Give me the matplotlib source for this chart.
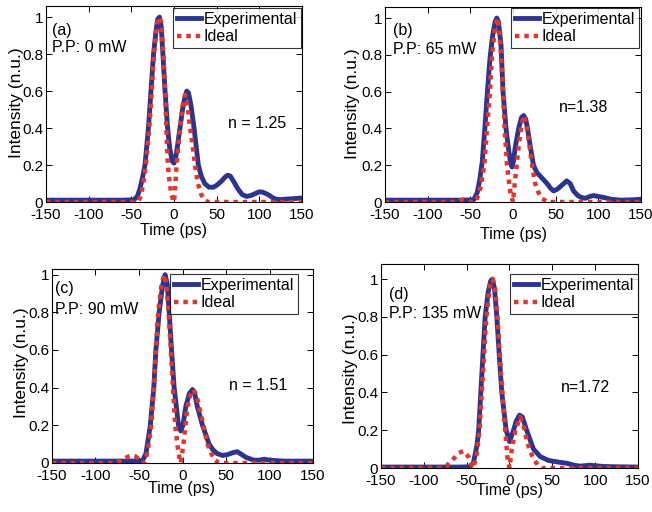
import matplotlib
matplotlib.use("Agg")
import matplotlib.pyplot as plt
from matplotlib.ticker import FuncFormatter
from matplotlib import font_manager

names = {f.name for f in font_manager.fontManager.ttflist}
NARROW = ['Liberation Sans Narrow', 'Liberation Sans', 'DejaVu Sans'] if 'Liberation Sans Narrow' in names else ['Liberation Sans', 'DejaVu Sans']
NORMAL = ['Liberation Sans', 'DejaVu Sans']

# ---------------- data ----------------
# (a) P.P: 0 mW
a_exp_t = [-150, -100, -60, -47, -43, -40, -37, -34, -30, -27, -24, -21, -19, -17, -15, -13, -10.5, -7.5, -5, -2, 0, 2, 4, 7, 10, 13, 15, 17, 20, 23.5, 26, 28.5, 32, 36, 41, 46, 50, 55, 60, 63, 66, 70, 75, 80, 85, 90, 95, 100, 104, 108, 112, 116, 120, 125, 130, 140, 150]
a_exp_y = [0.01, 0.01, 0.01, 0.012, 0.03, 0.07, 0.13, 0.2, 0.4, 0.6, 0.8, 0.93, 0.99, 1.0, 0.95, 0.8, 0.6, 0.4, 0.29, 0.22, 0.21, 0.24, 0.3, 0.4, 0.5, 0.57, 0.6, 0.59, 0.52, 0.4, 0.3, 0.2, 0.14, 0.1, 0.08, 0.08, 0.09, 0.11, 0.135, 0.145, 0.14, 0.11, 0.07, 0.04, 0.03, 0.035, 0.045, 0.055, 0.053, 0.045, 0.035, 0.022, 0.015, 0.013, 0.015, 0.018, 0.022]
a_ide_t = [-150, -100, -60, -44, -42, -39, -36, -33, -29, -26, -23.5, -21, -19, -17, -15, -12.5, -10.5, -9, -7.2, -5, -3, -1, 0, 1, 3, 5, 7, 10, 13, 16, 18.8, 22, 24.6, 28, 32, 36, 40, 60, 100, 150]
a_ide_y = [0, 0, 0, 0, 0.005, 0.03, 0.1, 0.2, 0.4, 0.6, 0.8, 0.92, 0.98, 1.0, 0.97, 0.8, 0.6, 0.4, 0.2, 0.1, 0.04, 0.01, 0, 0.05, 0.2, 0.3, 0.4, 0.52, 0.58, 0.52, 0.4, 0.3, 0.2, 0.1, 0.04, 0.01, 0, 0, 0, 0]

# (b) P.P: 65 mW
b_exp_t = [-150, -100, -60, -46, -42, -39, -36, -33, -30, -27, -24, -21, -19, -17, -14, -11.7, -8.2, -5, -3, -1.2, 0.5, 2.7, 6.6, 10, 12.5, 15, 17, 20, 24, 28, 32, 36, 40, 44, 47.6, 52, 57, 63, 67, 71, 76, 80, 85, 90, 94.5, 100, 106, 115, 126, 140, 151]
b_exp_y = [0.01, 0.01, 0.01, 0.012, 0.05, 0.12, 0.22, 0.4, 0.6, 0.78, 0.9, 0.98, 1.0, 0.98, 0.85, 0.6, 0.4, 0.28, 0.22, 0.19, 0.22, 0.3, 0.4, 0.46, 0.47, 0.45, 0.4, 0.31, 0.2, 0.16, 0.14, 0.12, 0.1, 0.075, 0.06, 0.07, 0.09, 0.115, 0.1, 0.06, 0.035, 0.025, 0.02, 0.03, 0.035, 0.03, 0.025, 0.015, 0.01, 0.012, 0.015]
b_ide_t = [-150, -100, -70, -64, -60, -55, -50, -45, -42, -38, -33.6, -30.5, -27, -24.6, -21, -18, -16, -14, -11.7, -9.8, -7, -3, 0, 2, 6.6, 10, 13, 16, 19.5, 23, 26, 30, 34, 40, 60, 100, 150]
b_ide_y = [0, 0, 0, 0.005, 0.013, 0.008, 0, 0, 0.02, 0.08, 0.2, 0.4, 0.6, 0.8, 0.95, 1.0, 0.92, 0.8, 0.6, 0.4, 0.2, 0.05, 0, 0.1, 0.3, 0.42, 0.47, 0.41, 0.3, 0.18, 0.1, 0.05, 0.02, 0, 0, 0, 0]

# (c) P.P: 90 mW
c_exp_t = [-150, -100, -60, -46, -42, -37, -33, -30.6, -26.8, -23, -20, -17.5, -15.3, -12.6, -9.6, -4.6, -2, 0.5, 3.8, 8, 11.5, 14, 17, 23, 30.6, 35, 40, 46, 52, 58, 63, 68, 73, 82, 88, 94, 100, 117, 135, 150]
c_exp_y = [0.01, 0.01, 0.01, 0.012, 0.05, 0.2, 0.4, 0.6, 0.8, 0.94, 1.0, 0.95, 0.8, 0.6, 0.4, 0.2, 0.17, 0.2, 0.3, 0.37, 0.39, 0.37, 0.3, 0.2, 0.1, 0.07, 0.05, 0.04, 0.045, 0.055, 0.06, 0.045, 0.03, 0.015, 0.015, 0.02, 0.015, 0.01, 0.01, 0.01]
c_ide_t = [-150, -100, -78, -72, -66, -62, -58, -54, -50, -46, -44, -40, -36, -33, -30.6, -28, -24, -21, -18.5, -16, -13.4, -11, -8.4, -4.6, -2, 1.1, 5.7, 9, 12.6, 16, 19, 24, 28.7, 36, 42, 60, 100, 150]
c_ide_y = [0, 0, 0, 0.01, 0.025, 0.035, 0.039, 0.035, 0.02, 0.005, 0, 0.06, 0.2, 0.4, 0.6, 0.8, 0.95, 1.0, 0.95, 0.8, 0.6, 0.4, 0.2, 0.05, 0, 0.1, 0.3, 0.36, 0.39, 0.36, 0.3, 0.2, 0.1, 0.02, 0, 0, 0, 0]

# (d) P.P: 135 mW
d_exp_t = [-150, -100, -60, -46, -42, -38, -36, -33.5, -31, -28.4, -25, -22, -20, -17.5, -14.8, -12, -9, -3.9, 0, 4.7, 8, 11.7, 15, 20, 28, 36, 45.5, 52, 59, 67, 75, 82.5, 88, 94, 100, 110, 130, 150]
d_exp_y = [0.005, 0.005, 0.005, 0.006, 0.03, 0.12, 0.2, 0.4, 0.6, 0.8, 0.93, 0.99, 1.0, 0.95, 0.8, 0.6, 0.4, 0.2, 0.14, 0.2, 0.25, 0.28, 0.27, 0.2, 0.1, 0.06, 0.04, 0.035, 0.03, 0.025, 0.015, 0.01, 0.012, 0.015, 0.012, 0.008, 0.006, 0.005]
d_ide_t = [-150, -100, -79, -74, -69, -64, -59, -53.7, -48, -45, -42, -38, -35, -31, -27, -23, -19.5, -17, -14, -10, -5, -2.3, 0, 2.7, 7, 12.5, 16, 20, 24, 28, 33, 38, 60, 100, 150]
d_ide_y = [0, 0, 0, 0.01, 0.03, 0.055, 0.08, 0.09, 0.06, 0.025, 0, 0.08, 0.2, 0.5, 0.8, 0.96, 1.0, 0.96, 0.8, 0.5, 0.2, 0.05, 0, 0.1, 0.2, 0.27, 0.23, 0.15, 0.09, 0.05, 0.015, 0, 0, 0, 0]

panel_tags = ['(a)', '(b)', '(c)', '(d)']
power_labels = ['P.P: 0 mW', 'P.P: 65 mW', 'P.P: 90 mW', 'P.P: 135 mW']
n_labels = ['n = 1.25', 'n=1.38', 'n = 1.51', 'n=1.72']
legend_labels = ['Experimental', 'Ideal']
x_ticks = [-150, -100, -50, 0, 50, 100, 150]
y_ticks = [0, 0.2, 0.4, 0.6, 0.8, 1.0]

series = [
    (a_exp_t, a_exp_y, a_ide_t, a_ide_y),
    (b_exp_t, b_exp_y, b_ide_t, b_ide_y),
    (c_exp_t, c_exp_y, c_ide_t, c_ide_y),
    (d_exp_t, d_exp_y, d_ide_t, d_ide_y),
]

# ---------------- layout (pixels) ----------------
W, H = 652, 512
boxes = [(46, 302, 6, 202, 1.06), (385, 641, 7, 202, 1.06),
         (52, 313, 269, 463, 1.03), (381, 638, 264, 468, 1.08)]
legend_anchor = [(301, 8), (639, 8), (298, 274), (638, 274)]
tag_pos = [(52, 30), (393, 30), (55, 289), (389, 294)]
pp_pos = [(52, 48), (393, 50), (55, 309), (389, 314)]
n_pos = [(228, 123), (559, 108), (229, 386), (561, 388)]
xlab_pos = [(173, 231), (513, 234), (182, 488), (509, 491)]
ylab_pos = [(17, 103), (353, 104), (22, 363), (351, 369)]

BLUE = '#2b3590'
RED = '#e5342b'
FS = 11

fig = plt.figure(figsize=(W / 100, H / 100), dpi=100)

def fx(x):
    return x / W

def fy(y):
    return 1 - y / H

for i in range(4):
    l, r, t, b, ytop = boxes[i]
    ax = fig.add_axes([fx(l), fy(b), (r - l) / W, (b - t) / H])
    et, ey, it, iy = series[i]
    h1, = ax.plot(et, ey, color=BLUE, lw=3.5, solid_joinstyle='round', label=legend_labels[0])
    h2, = ax.plot(it, iy, color=RED, lw=3.2, linestyle=(0, (1, 1.1)), dash_capstyle='butt', label=legend_labels[1])
    ax.set_xlim(-150, 150)
    ax.set_ylim(0, ytop)
    ax.set_xticks(x_ticks)
    ax.set_yticks(y_ticks)
    ax.xaxis.set_major_formatter(FuncFormatter(lambda v, p: ('%g' % v).replace('\u2212', '-')))
    ax.yaxis.set_major_formatter(FuncFormatter(lambda v, p: '%g' % v))
    ax.tick_params(direction='in', length=4, width=0.7, top=True, right=True, labelsize=FS)
    ax.tick_params(axis='x', pad=4)
    ax.tick_params(axis='y', pad=2)
    for lab in ax.get_xticklabels() + ax.get_yticklabels():
        lab.set_family(NARROW)
    for sp in ax.spines.values():
        sp.set_linewidth(0.8)
    lx, ly = legend_anchor[i]
    leg = fig.legend(handles=[h1, h2], loc='upper right', bbox_to_anchor=(fx(lx), fy(ly)),
                     bbox_transform=fig.transFigure, borderaxespad=0, frameon=True, fancybox=False,
                     handlelength=1.5, handletextpad=0.15, borderpad=0.25, labelspacing=0.15,
                     prop={'family': NARROW, 'size': FS + 0.5})
    leg.get_frame().set_edgecolor('black')
    leg.get_frame().set_linewidth(0.8)
    fig.text(fx(tag_pos[i][0]), fy(tag_pos[i][1]), panel_tags[i], ha='left', va='center', family=NARROW, fontsize=FS + 0.5)
    fig.text(fx(pp_pos[i][0]), fy(pp_pos[i][1]), power_labels[i], ha='left', va='center', family=NARROW, fontsize=FS + 0.5)
    fig.text(fx(n_pos[i][0]), fy(n_pos[i][1]), n_labels[i], ha='left', va='center', family=NARROW, fontsize=FS + 0.5)
    fig.text(fx(xlab_pos[i][0]), fy(xlab_pos[i][1]), 'Time (ps)', ha='center', va='center', family=NARROW, fontsize=FS + 0.5)
    fig.text(fx(ylab_pos[i][0]), fy(ylab_pos[i][1]), 'Intensity (n.u.)', ha='center', va='center', rotation=90, family=NORMAL, fontsize=12.5)

fig.savefig('out.png', dpi=100)
